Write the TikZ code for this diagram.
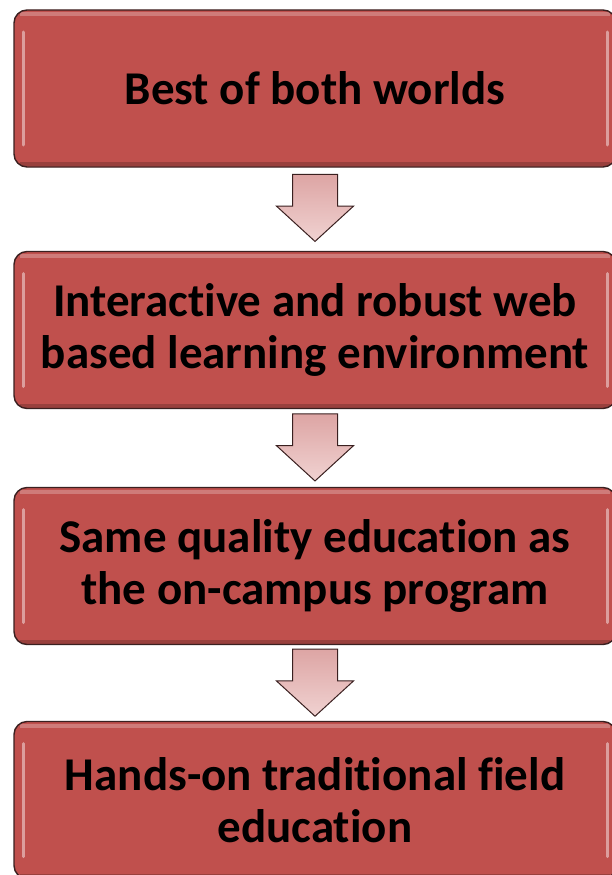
\documentclass[tikz,border=0pt]{standalone}
\usepackage{fontspec}
\setmainfont{Carlito}[Ligatures=NoCommon]
\usepackage{tikz}
\usetikzlibrary{calc}
\usetikzlibrary{shapes.arrows}

\definecolor{boxred}{HTML}{C0504D}
\definecolor{boxrim}{HTML}{3A2020}
\definecolor{arrowpink}{HTML}{DDA5A4}
\definecolor{arrowlight}{HTML}{F0D2D1}

\newcommand{\boxfont}{\bfseries\fontsize{47}{52}\selectfont}

\tikzset{
  stepbox/.style={draw=boxrim, line width=1.4pt, fill=boxred,
    rounded corners=13pt, minimum width=602pt, minimum height=157pt,
    text width=598pt, align=flush center, inner sep=0pt, font=\boxfont,
    path picture={
      \draw[white, opacity=0.45, line width=3pt, line cap=round]
        ($(path picture bounding box.north west)+(9pt,-22pt)$) --
        ($(path picture bounding box.south west)+(9pt,22pt)$);
      \draw[white, opacity=0.45, line width=3pt, line cap=round]
        ($(path picture bounding box.north east)+(-9pt,-22pt)$) --
        ($(path picture bounding box.south east)+(-9pt,22pt)$);
      \draw[white, opacity=0.25, line width=4pt]
        ($(path picture bounding box.north west)+(6pt,-4pt)$) --
        ($(path picture bounding box.north east)+(-6pt,-4pt)$);
      \draw[black, opacity=0.2, line width=4pt]
        ($(path picture bounding box.south west)+(6pt,3pt)$) --
        ($(path picture bounding box.south east)+(-6pt,3pt)$);
    }},
  downarrow/.style={single arrow, rotate=-90,
    draw=boxrim, line width=1pt, top color=arrowpink, bottom color=arrowlight,
    minimum height=67pt, minimum width=76pt, single arrow head extend=16pt,
    single arrow tip angle=95, single arrow head indent=0pt,
    inner xsep=2pt, inner ysep=22pt}
}

\begin{document}
\begin{tikzpicture}[x=1pt, y=-1pt]
  % Page frame
  \useasboundingbox (0,0) rectangle (612,875);

  % The four boxes
  \node[stepbox] (best) at (315,88.5) {Best of both worlds};
  \node[stepbox] (web) at (315,330) {Interactive and robust web\\based learning environment};
  \node[stepbox] (same) at (315,566) {Same quality education as\\the on-campus program};
  \node[stepbox] (field) at (315,800) {Hands-on traditional field\\education};

  % The arrows between them
  \path (best.south) -- (web.north) node[downarrow, pos=0.36] (a1) {};
  \path (web.south) -- (same.north) node[downarrow, pos=0.36] (a2) {};
  \path (same.south) -- (field.north) node[downarrow, pos=0.36] (a3) {};
\end{tikzpicture}
\end{document}
